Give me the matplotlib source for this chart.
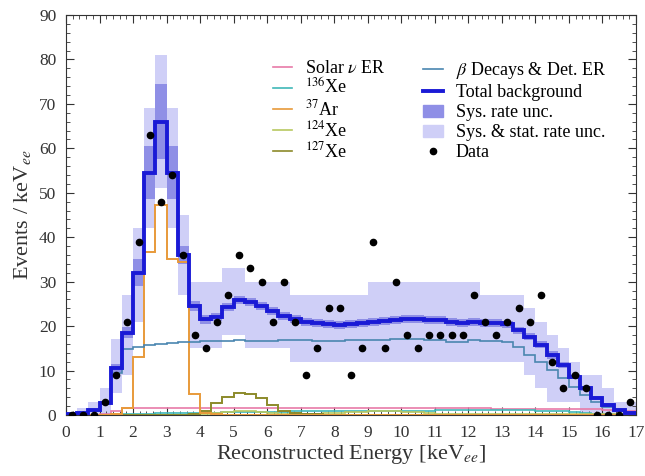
import matplotlib.pyplot as plt
import numpy as np
from matplotlib.ticker import MultipleLocator, AutoMinorLocator
from matplotlib.patches import Patch
from matplotlib.lines import Line2D

plt.rcParams['font.family'] = ['Liberation Serif', 'DejaVu Serif']
plt.rcParams['mathtext.fontset'] = 'stix'

# 1/3 keV bins from 0 to 17 keV
edges = np.linspace(0, 17, 52)
centers = 0.5 * (edges[:-1] + edges[1:])

total = [0.2, 0.4, 1.1, 2.8, 10.5, 18.5, 32.0, 54.5, 66.0, 54.5,
         36.0, 24.5, 21.5, 22.0, 24.2, 25.8, 25.5, 24.5, 23.3, 22.3,
         21.5, 21.0, 20.6, 20.4, 20.3, 20.4, 20.6, 20.9, 21.2, 21.4,
         21.5, 21.5, 21.4, 21.3, 21.0, 20.8, 20.9, 20.7, 20.6, 20.4,
         19.1, 17.6, 15.8, 13.5, 11.3, 8.6, 6.0, 3.8, 2.3, 1.1, 0.5]
sys_err = [0.1, 0.1, 0.2, 0.4, 0.9, 1.2, 3.0, 6.0, 8.5, 6.0,
           2.0, 1.2, 1.0, 0.9, 0.9, 0.9, 0.9, 0.9, 0.9, 0.9,
           0.9, 0.9, 0.9, 0.9, 0.9, 0.9, 0.9, 0.9, 0.9, 0.9,
           0.9, 0.9, 0.9, 0.9, 0.9, 0.9, 0.9, 0.9, 0.9, 0.8,
           0.8, 0.8, 0.8, 0.8, 0.7, 0.6, 0.5, 0.4, 0.3, 0.2, 0.1]
stat_lo = [0, 0, 0, 0, 5, 9, 21, 42, 51, 42,
           27, 15, 15, 15, 18, 18, 15, 15, 15, 15,
           12, 12, 12, 12, 12, 12, 12, 12, 12, 12,
           12, 12, 12, 12, 12, 12, 12, 12, 12, 12,
           12, 9, 6, 3, 3, 3, 0, 0, 0, 0, 0]
stat_hi = [0.5, 1.5, 3, 6, 17, 27, 42, 69, 81, 69,
           45, 30, 30, 30, 33, 33, 30, 30, 30, 30,
           27, 27, 27, 27, 27, 27, 27, 30, 30, 30,
           30, 30, 30, 30, 30, 30, 30, 27, 27, 27,
           27, 24, 21, 18, 15, 12, 9, 9, 6, 3, 3]

beta_det = [0.15, 0.35, 1.0, 2.6, 9.5, 14.8, 15.3, 15.7, 16.0, 16.2,
            16.4, 16.5, 16.6, 16.6, 16.7, 16.9, 16.7, 16.6, 16.7, 16.8,
            16.8, 16.8, 16.7, 16.7, 16.7, 16.8, 16.8, 16.9, 16.9, 17.0,
            17.0, 17.0, 16.9, 16.8, 16.4, 16.4, 16.8, 16.7, 16.6, 16.5,
            15.4, 13.5, 12.0, 10.1, 8.3, 6.4, 4.6, 3.0, 1.8, 0.9, 0.4]
ar37 = [0, 0, 0, 0, 0.3, 1.5, 13.0, 36.6, 47.3, 35.0,
        34.5, 4.7, 0.5, 0.2] + [0.05] * 37
xe127 = [0] * 11 + [0.2, 1.0, 2.6, 4.1, 5.0, 4.7, 3.8, 2.3, 1.0,
                    0.5, 0.3, 0.2] + [0.1] * 28
solar_nu = [0, 0, 0, 0.2, 0.8, 1.5, 1.6, 1.6, 1.6, 1.6,
            1.6, 1.6, 1.6, 1.6, 1.6, 1.6, 1.6, 1.6, 1.6, 1.6,
            1.6, 1.6, 1.6, 1.6, 1.6, 1.6, 1.5, 1.5, 1.5, 1.5,
            1.5, 1.5, 1.5, 1.5, 1.5, 1.5, 1.5, 1.5, 1.4, 1.4,
            1.4, 1.4, 1.4, 1.4, 1.4, 1.3, 1.3, 1.3, 1.2, 1.0, 0.8]
xe136 = [0, 0, 0, 0, 0.1, 0.2, 0.3, 0.3, 0.4, 0.4,
         0.4, 0.5, 0.5, 0.5, 0.6, 0.6, 0.6, 0.7, 0.7, 0.7,
         0.8, 0.8, 0.8, 0.8, 0.9, 0.9, 0.9, 0.9, 1.0, 1.0,
         1.0, 1.0, 1.0, 1.1, 1.1, 1.1, 1.1, 1.1, 1.1, 1.1,
         1.1, 1.1, 1.0, 0.9, 0.8, 0.6, 0.5, 0.3, 0.2, 0.1, 0.0]
xe124 = [0] * 12 + [0.2, 0.4, 0.6, 0.8, 0.8, 0.7, 0.5, 0.3,
                    0.2, 0.2, 0.3, 0.4, 0.5, 0.6, 0.7, 0.8, 0.8, 0.8,
                    0.7, 0.6, 0.4, 0.3] + [0.2] * 17
data = [0, 0, 0, 3, 9, 21, 39, 63, 48, 54,
        36, 18, 15, 21, 27, 36, 33, 30, 21, 30,
        21, 9, 15, 24, 24, 9, 15, 39, 15, 30,
        18, 15, 18, 18, 18, 18, 27, 21, 18, 21,
        24, 21, 27, 12, 6, 9, 6, 0, 0, 0, 3]

c_light = '#cfcff7'
c_dark = '#8f8fe6'
c_total = '#1a1ad6'
c_solar = '#e87aa8'
c_xe136 = '#3fb8b8'
c_ar37 = '#e89a3a'
c_xe124 = '#b8c860'
c_xe127 = '#8c8a2a'
c_beta = '#4a86b0'
c_text = '#333333'

fig = plt.figure(figsize=(6.45, 4.76), dpi=100)
ax = fig.add_axes([66 / 645, 61 / 476, 570 / 645, 400 / 476])

total = np.array(total)
sys_err = np.array(sys_err)
stat_lo = np.array(stat_lo)
stat_hi = np.array(stat_hi)
w = edges[1] - edges[0]

# uncertainty bands, one box per bin
ax.bar(centers, stat_hi - stat_lo, bottom=stat_lo, width=w, color=c_light, linewidth=0, zorder=1)
ax.bar(centers, 2 * sys_err, bottom=total - sys_err, width=w, color=c_dark, linewidth=0, zorder=2)

ax.stairs(solar_nu, edges, color=c_solar, lw=1.2, zorder=3)
ax.stairs(xe136, edges, color=c_xe136, lw=1.2, zorder=3)
ax.stairs(xe124, edges, color=c_xe124, lw=1.2, zorder=3)
ax.stairs(xe127, edges, color=c_xe127, lw=1.4, zorder=3)
ax.stairs(ar37, edges, color=c_ar37, lw=1.4, zorder=3)
ax.stairs(beta_det, edges, color=c_beta, lw=1.2, zorder=4)
ax.stairs(total, edges, color=c_total, lw=2.8, zorder=5)
ax.plot(centers, data, 'o', color='black', markersize=4.5, zorder=6)

ax.set_xlim(0, 17)
ax.set_ylim(0, 90)
ax.xaxis.set_major_locator(MultipleLocator(1))
ax.yaxis.set_major_locator(MultipleLocator(10))
ax.xaxis.set_minor_locator(AutoMinorLocator())
ax.yaxis.set_minor_locator(AutoMinorLocator())
ax.tick_params(which='both', direction='in', top=True, right=True, labelsize=12.5,
               colors=c_text, pad=7)
ax.tick_params(which='major', length=6)
ax.tick_params(which='minor', length=3)
for s in ax.spines.values():
    s.set_color(c_text)

ax.set_xlabel('Reconstructed Energy [keV$_{ee}$]', fontsize=16, color=c_text, labelpad=2)
ax.set_ylabel('Events / keV$_{ee}$', fontsize=16, color=c_text, labelpad=4)

# two legend columns, kept as separate legends so the rows line up
leg_kw = dict(loc='upper left', frameon=False, fontsize=13, handlelength=1.1,
              handletextpad=0.7, handleheight=0.6)
h1 = [Line2D([], [], color=c, lw=1.2) for c in (c_solar, c_xe136, c_ar37, c_xe124, c_xe127)]
l1 = ['Solar $\\nu$ ER', '$^{136}$Xe', '$^{37}$Ar', '$^{124}$Xe', '$^{127}$Xe']
h2 = [
    Line2D([], [], color=c_beta, lw=1.2),
    Line2D([], [], color=c_total, lw=2.8),
    Patch(color=c_dark),
    Patch(color=c_light),
    Line2D([], [], color='black', marker='o', markersize=4.5, linestyle=''),
]
l2 = ['$\\beta$ Decays & Det. ER', 'Total background', 'Sys. rate unc.',
      'Sys. & stat. rate unc.', 'Data']
leg1 = ax.legend(h1, l1, bbox_to_anchor=(0.334, 0.928), labelspacing=0.06, **leg_kw)
ax.add_artist(leg1)
ax.legend(h2, l2, bbox_to_anchor=(0.598, 0.928), labelspacing=0.17, **leg_kw)

fig.savefig('out.png', dpi=100)
